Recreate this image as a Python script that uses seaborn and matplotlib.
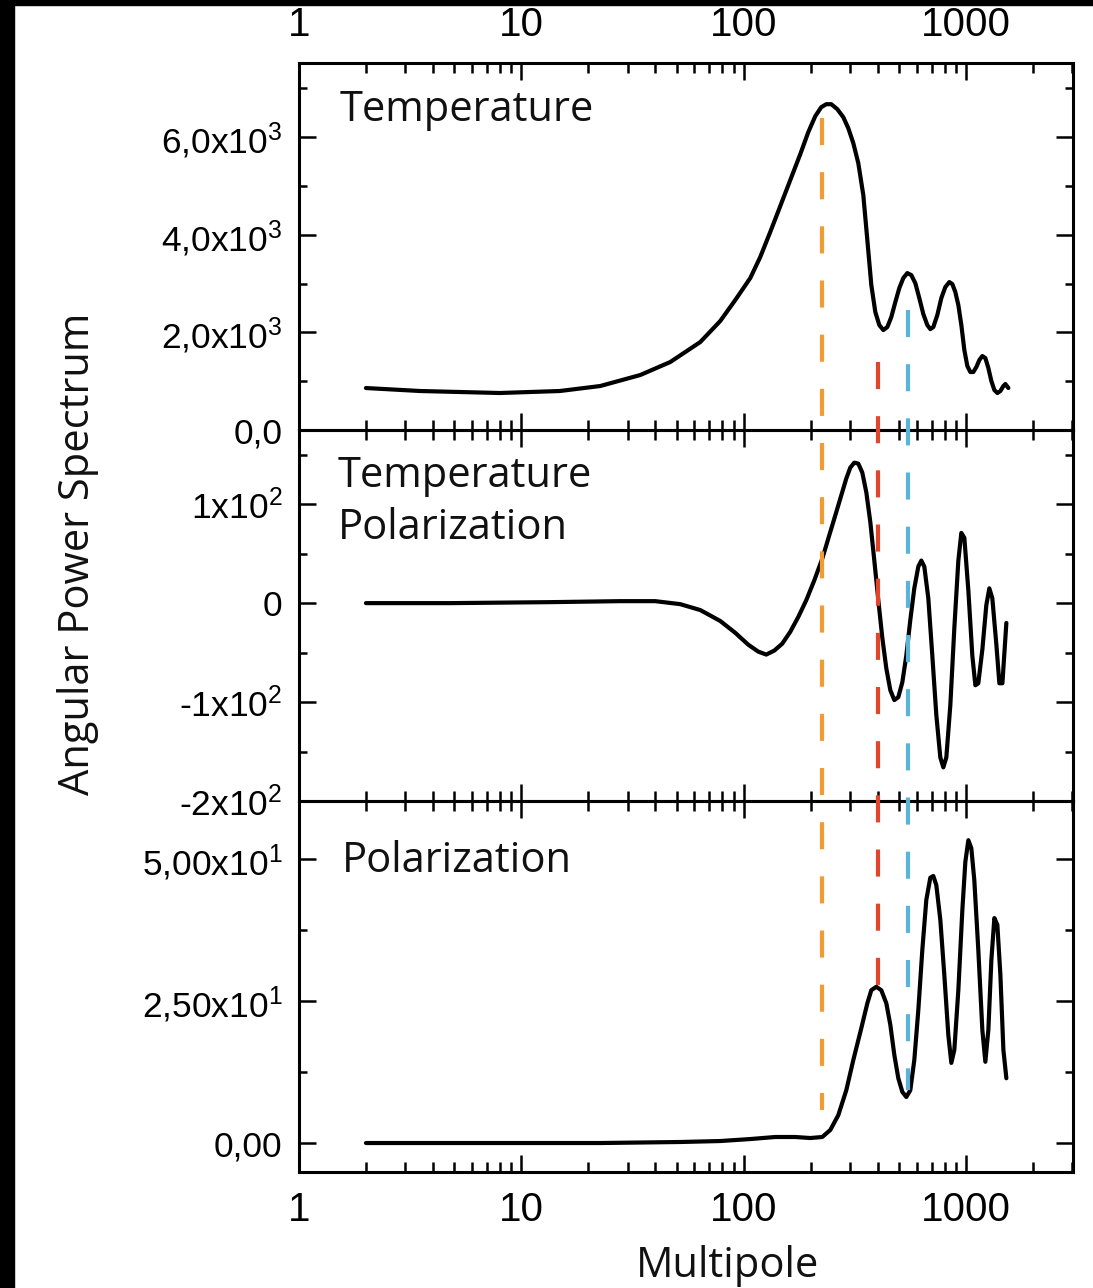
import numpy as np
import pandas as pd
import matplotlib
matplotlib.use("Agg")
import matplotlib.pyplot as plt
import seaborn as sns
from matplotlib.lines import Line2D
from matplotlib.patches import Rectangle
from matplotlib.ticker import FixedLocator, FixedFormatter, NullFormatter

# ---------------- data ----------------
tt_ell = [2, 3.5, 8.0, 14.9, 22.6, 34.2, 46.7, 63.7, 78.3, 91.5, 106.9, 118.5, 131.4, 145.8,
          161.7, 179.4, 194.9, 209.5, 222.9, 234.8, 247.3, 263.2, 280.0, 294.9, 310.6, 327.1,
          344.5, 359.2, 374.3, 390.1, 406.6, 423.8, 441.7, 460.4, 479.9, 500.1, 521.2, 543.3,
          566.2, 590.2, 615.1, 641.2, 668.3, 689.4, 711.2, 741.3, 772.7, 805.4, 839.5, 866.0,
          893.3, 921.5, 950.6, 980.6, 1011.4, 1043.3, 1076.3, 1110.3, 1145.4, 1181.5, 1218.8,
          1257.3, 1297.0, 1338.0, 1380.3, 1423.9, 1468.9, 1499.7, 1547.1]
tt_val = [860, 799, 758, 799, 901, 1126, 1393, 1802, 2232, 2662, 3113, 3543, 4055, 4587,
          5120, 5652, 6103, 6430, 6615, 6676, 6676, 6574, 6410, 6185, 5878, 5468, 4813, 3891,
          2970, 2417, 2150, 2048, 2109, 2314, 2621, 2908, 3113, 3215, 3174, 3010, 2703, 2376,
          2150, 2068, 2109, 2355, 2703, 2929, 3031, 2990, 2826, 2560, 2150, 1638, 1311, 1188,
          1188, 1290, 1434, 1515, 1474, 1270, 1003, 819, 758, 799, 901, 942, 860]

te_ell = [2, 4.78, 13.46, 27.8, 39.9, 51.7, 63.7, 78.3, 91.5, 104.7, 116.1, 126.1, 137.0,
          148.8, 161.7, 175.7, 190.9, 207.4, 225.3, 244.8, 260.4, 274.3, 288.9, 301.1, 313.9,
          327.1, 340.9, 355.4, 370.4, 386.1, 402.4, 419.4, 437.2, 455.7, 475.0, 495.0, 516.0,
          537.7, 560.5, 584.1, 608.9, 628.1, 647.9, 675.2, 703.8, 733.6, 764.6, 788.8, 813.7,
          848.2, 884.1, 921.5, 950.6, 980.6, 1022, 1065, 1099, 1133, 1181.5, 1231, 1270, 1310,
          1366, 1409, 1454, 1515]
te_val = [0, 0, 1, 2, 2, -1, -7, -18, -30, -42, -49, -52, -48, -41, -29, -14, 3, 23, 45, 72,
          92, 109, 126, 137, 142, 141, 132, 112, 82, 43, 3, -35, -66, -88, -98, -95, -80, -53,
          -17, 15, 37, 43, 37, 5, -53, -113, -156, -166, -156, -103, -25, 43, 71, 66, 13, -53,
          -83, -81, -47, -2, 15, 5, -42, -81, -81, -20]

ee_ell = [2, 8.0, 22.6, 51.7, 78.3, 106.9, 138.4, 170.3, 199.0, 225.3, 244.8, 265.9, 288.9,
          310.6, 337.4, 359.2, 374.3, 394.1, 415.0, 437.2, 455.7, 475.0, 495.0, 516.0, 537.7,
          560.5, 584.1, 608.9, 634.7, 661.5, 689.4, 711.2, 733.6, 764.6, 796.9, 830.8, 857.0,
          884.1, 921.5, 960.5, 990.8, 1022, 1054, 1087, 1133, 1181.5, 1218.8, 1257.3, 1297,
          1338, 1380, 1424, 1469, 1515]
ee_val = [0, 0, 0, 0.18, 0.35, 0.7, 1.06, 1.06, 0.88, 1.06, 2.3, 4.9, 9.3, 14.6, 20.2, 24.6,
          26.9, 27.5, 26.9, 24.6, 20.8, 15.5, 11.4, 9.0, 8.1, 9.3, 14.6, 23.4, 34.0, 42.8,
          46.7, 47.0, 45.4, 39.3, 29.6, 19.0, 14.1, 16.4, 26.9, 41.0, 49.5, 53.3, 51.9, 46.3,
          34.0, 19.9, 14.3, 19.9, 32.2, 39.6, 38.4, 29.6, 16.4, 11.4]

x_ticks = [1, 10, 100, 1000]
x_ticklabels = ["1", "10", "100", "1000"]
x_minor = [m * d for d in (1, 10, 100, 1000) for m in range(2, 10)]

tt_ticks = [0, 2000, 4000, 6000]
tt_ticklabels = ["0,0", "2,0x10$^3$", "4,0x10$^3$", "6,0x10$^3$"]
tt_minor = [1000, 3000, 5000, 7000]

te_ticks = [-200, -100, 0, 100]
te_ticklabels = ["-2x10$^2$", "-1x10$^2$", "0", "1x10$^2$"]
te_minor = [-150, -50, 50, 150]

ee_ticks = [0, 25, 50]
ee_ticklabels = ["0,00", "2,50x10$^1$", "5,00x10$^1$"]
ee_minor = [12.5, 37.5]

panel_titles = ["Temperature", "Temperature\nPolarization", "Polarization"]

marker_ell = [225, 402, 549]
marker_colors = ["#f29b32", "#e0462c", "#5ab3da"]
marker_top = [6390, 1390, 2460]      # value in the top panel where each dashed line starts
marker_bottom = [5.8, 27.0, 9.3]     # value in the bottom panel where each dashed line ends

# ---------------- style ----------------
sns.set_style("ticks")
plt.rcParams["font.family"] = ["Liberation Sans", "DejaVu Sans"]
plt.rcParams["mathtext.fontset"] = "custom"
plt.rcParams["mathtext.rm"] = "Liberation Sans"
plt.rcParams["mathtext.it"] = "Liberation Sans"
plt.rcParams["mathtext.bf"] = "Liberation Sans"
plt.rcParams["text.color"] = "black"
plt.rcParams["xtick.color"] = "black"
plt.rcParams["ytick.color"] = "black"
plt.rcParams["xtick.labelcolor"] = "black"
plt.rcParams["ytick.labelcolor"] = "black"

W, H = 1093, 1288
fig = plt.figure(figsize=(W / 100, H / 100), dpi=100)
fig.patch.set_facecolor("white")

left, right = 299 / W, 1073 / W
top, bottom = 1 - 63 / H, 1 - 1172 / H
gs = fig.add_gridspec(3, 1, left=left, right=right, top=top, bottom=bottom,
                      hspace=0, height_ratios=[367, 371, 371])
axes = [fig.add_subplot(gs[i]) for i in range(3)]

frames = [
    pd.DataFrame({"ell": tt_ell, "val": tt_val}),
    pd.DataFrame({"ell": te_ell, "val": te_val}),
    pd.DataFrame({"ell": ee_ell, "val": ee_val}),
]
ylims = [(0, 7520), (-200, 175), (-5.1, 60.2)]
yticks = [tt_ticks, te_ticks, ee_ticks]
yticklabels = [tt_ticklabels, te_ticklabels, ee_ticklabels]
yminor = [tt_minor, te_minor, ee_minor]

title_font = ["Open Sans", "DejaVu Sans"]
title_pos = [(0.052, 0.930), (0.050, 0.932), (0.056, 0.895)]

for i, ax in enumerate(axes):
    sns.lineplot(data=frames[i], x="ell", y="val", ax=ax, color="black", lw=3.0,
                 sort=False, estimator=None)
    ax.lines[-1].set_solid_joinstyle("round")
    ax.lines[-1].set_solid_capstyle("round")
    ax.set_xscale("log")
    ax.set_xlim(1, 3020)
    ax.set_ylim(*ylims[i])
    ax.set_xlabel("")
    ax.set_ylabel("")
    ax.xaxis.set_major_locator(FixedLocator(x_ticks))
    ax.xaxis.set_minor_locator(FixedLocator(x_minor))
    ax.xaxis.set_minor_formatter(NullFormatter())
    ax.yaxis.set_major_locator(FixedLocator(yticks[i]))
    ax.yaxis.set_major_formatter(FixedFormatter(yticklabels[i]))
    ax.yaxis.set_minor_locator(FixedLocator(yminor[i]))
    for s in ax.spines.values():
        s.set_visible(True)
        s.set_linewidth(2.2)
        s.set_color("black")
    ax.tick_params(which="both", direction="in", top=True, right=True, color="black",
                   width=1.8)
    ax.tick_params(axis="x", which="major", length=12, labelsize=29, pad=14)
    ax.tick_params(axis="x", which="minor", length=7)
    ax.tick_params(axis="y", which="major", length=12, labelsize=25.5, pad=12)
    ax.tick_params(axis="y", which="minor", length=6)
    if i == 0:
        ax.tick_params(axis="x", labeltop=True, labelbottom=False)
    elif i == 1:
        ax.tick_params(axis="x", labeltop=False, labelbottom=False)
    else:
        ax.tick_params(axis="x", labeltop=False, labelbottom=True)
    if i in (0, 2):
        ax.xaxis.set_major_formatter(FixedFormatter(x_ticklabels))
    ax.text(title_pos[i][0], title_pos[i][1], panel_titles[i], transform=ax.transAxes,
            ha="left", va="top", fontsize=30, family=title_font, color="#111111",
            linespacing=1.32)
    ax.set_facecolor("none")

# dashed marker lines spanning all three panels (figure level so dashes stay continuous)
fig.canvas.draw()
inv = fig.transFigure.inverted()
for ell, col, ytop, ybot in zip(marker_ell, marker_colors, marker_top, marker_bottom):
    p_top = inv.transform(axes[0].transData.transform((ell, ytop)))
    p_bot = inv.transform(axes[2].transData.transform((ell, ybot)))
    fig.add_artist(Line2D([p_top[0], p_bot[0]], [p_top[1], p_bot[1]],
                          transform=fig.transFigure, color=col, lw=3.0,
                          linestyle=(0, (6.5, 6.5)), zorder=10))

fig.text(78 / W, 1 - 554 / H, "Angular Power Spectrum", rotation=90, ha="center",
         va="center", fontsize=30, family=title_font, color="#111111")
fig.text(727 / W, 1 - 1266 / H, "Multipole", ha="center", va="center", fontsize=30,
         family=title_font, color="#111111")

# black frame strips at the top and left edges of the reference image
fig.add_artist(Rectangle((0, 1 - 5 / H), 1, 5 / H, transform=fig.transFigure,
                         color="black", zorder=20))
fig.add_artist(Rectangle((0, 0), 14 / W, 1, transform=fig.transFigure,
                         color="black", zorder=20))

fig.savefig("out.png", dpi=100, facecolor="white")
